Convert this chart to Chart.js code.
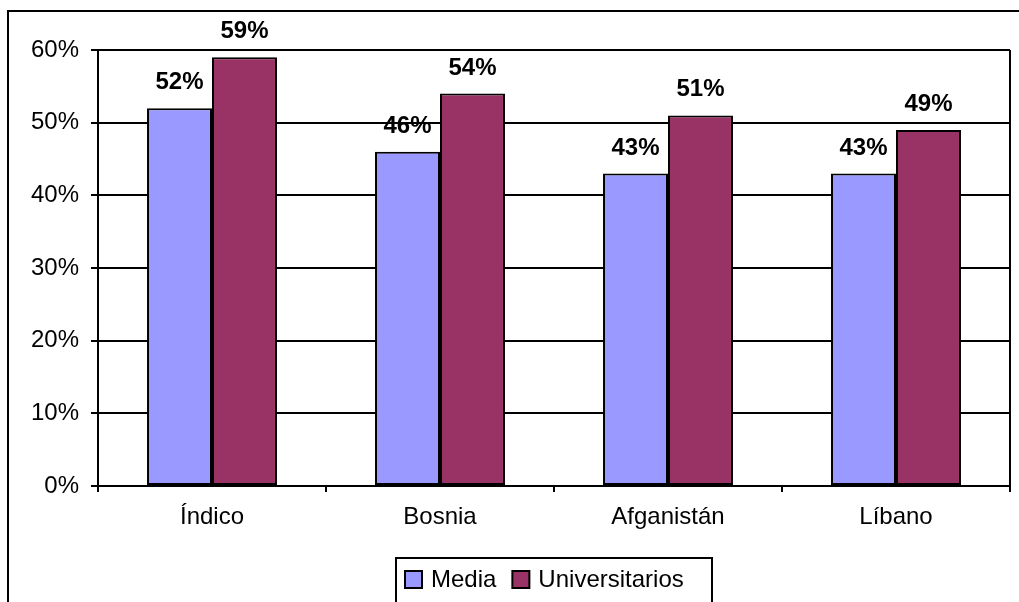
<!DOCTYPE html>
<html>
<head>
<meta charset="utf-8">
<script src="https://cdn.jsdelivr.net/npm/chart.js@4/dist/chart.umd.min.js"></script>
<style>
  html, body { margin: 0; padding: 0; background: #ffffff; }
  #wrap { width: 1019px; height: 602px; position: relative; }
</style>
</head>
<body>
<div id="wrap"><canvas id="chart"></canvas></div>
<script>
// ===== DATA =====
const categories = ["Índico", "Bosnia", "Afganistán", "Líbano"];
const seriesNames = ["Media", "Universitarios"];
const mediaValues = [52, 46, 43, 43];
const universitariosValues = [59, 54, 51, 49];
const yTicks = [0, 10, 20, 30, 40, 50, 60];

const FONT = "'Liberation Sans', Arial, sans-serif";
const colors = ["#9999ff", "#993366"];

// Draws outer frame, plot box edge, value labels and the boxed legend
const decorations = {
    id: "decorations",
    afterDraw(chart) {
        const ctx = chart.ctx;
        const area = chart.chartArea;
        ctx.save();

        // outer frame
        ctx.strokeStyle = "#000000";
        ctx.lineWidth = 2;
        ctx.strokeRect(8, 11, 1100, 700);

        // plot box right edge
        ctx.lineWidth = 2;
        ctx.beginPath();
        ctx.moveTo(area.right, area.top);
        ctx.lineTo(area.right, area.bottom + 6);
        ctx.stroke();

        // value labels
        ctx.fillStyle = "#000000";
        ctx.font = "bold 24px " + FONT;
        ctx.textAlign = "center";
        ctx.textBaseline = "alphabetic";
        chart.data.datasets.forEach((ds, i) => {
            chart.getDatasetMeta(i).data.forEach((bar, j) => {
                ctx.fillText(ds.data[j] + "%", bar.x, bar.y - 19);
            });
        });

        // legend
        ctx.font = "24px " + FONT;
        ctx.lineWidth = 2;
        ctx.strokeRect(396, 558, 316, 60);
        let x = 405;
        chart.data.datasets.forEach(ds => {
            ctx.fillStyle = ds.backgroundColor;
            ctx.fillRect(x, 571, 17, 17);
            ctx.strokeStyle = "#000000";
            ctx.strokeRect(x, 571, 17, 17);
            ctx.fillStyle = "#000000";
            ctx.textAlign = "left";
            ctx.textBaseline = "middle";
            ctx.fillText(ds.label, x + 26, 580);
            x += 26 + ctx.measureText(ds.label).width + 16;
        });

        ctx.restore();
    }
};

new Chart(document.getElementById("chart"), {
    type: "bar",
    data: {
        labels: categories,
        datasets: [
            {
                label: seriesNames[0],
                data: mediaValues,
                backgroundColor: colors[0],
                borderColor: "#000000",
                borderWidth: 2,
                borderSkipped: false,
                barPercentage: 1,
                categoryPercentage: 0.57
            },
            {
                label: seriesNames[1],
                data: universitariosValues,
                backgroundColor: colors[1],
                borderColor: "#000000",
                borderWidth: 2,
                borderSkipped: false,
                barPercentage: 1,
                categoryPercentage: 0.57
            }
        ]
    },
    options: {
        responsive: true,
        maintainAspectRatio: false,
        animation: false,
        layout: {
            padding: { top: 50, right: 9, bottom: 0, left: 0 }
        },
        plugins: {
            legend: { display: false },
            tooltip: { enabled: false }
        },
        scales: {
            x: {
                grid: {
                    drawOnChartArea: false,
                    drawTicks: true,
                    tickLength: 6,
                    color: "#000000",
                    lineWidth: 2
                },
                border: { color: "#000000", width: 2 },
                ticks: {
                    color: "#000000",
                    font: { family: FONT, size: 24 },
                    padding: 11
                },
                afterFit(scale) { scale.height = 116; }
            },
            y: {
                min: 0,
                max: 60,
                afterBuildTicks(scale) {
                    scale.ticks = yTicks.map(v => ({ value: v }));
                },
                grid: {
                    color: "#000000",
                    lineWidth: 2,
                    tickLength: 7
                },
                border: { color: "#000000", width: 2 },
                ticks: {
                    color: "#000000",
                    font: { family: FONT, size: 24 },
                    padding: 12,
                    callback: v => v + "%"
                },
                afterFit(scale) { scale.width = 98; }
            }
        }
    },
    plugins: [decorations]
});
</script>
</body>
</html>
